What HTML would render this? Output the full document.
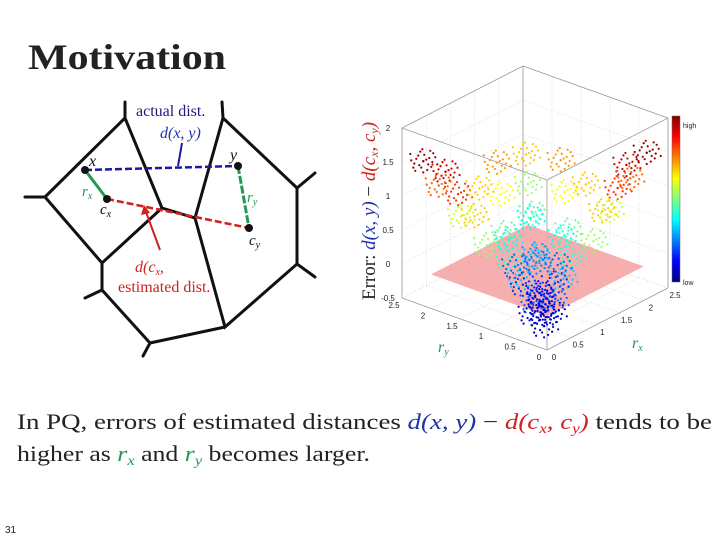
<!DOCTYPE html>
<html><head><meta charset="utf-8"><style>
html,body{margin:0;padding:0;background:#fff;}
svg{display:block;}
text{font-family:"Liberation Serif",serif;}
text.sans{font-family:"Liberation Sans",sans-serif;}
</style></head><body>
<svg id="s" width="720" height="540" viewBox="0 0 720 540" xmlns="http://www.w3.org/2000/svg">
<text x="28" y="69" font-size="36" font-weight="bold" fill="#222" textLength="198" lengthAdjust="spacingAndGlyphs">Motivation</text>

<g stroke="#111" stroke-width="3" fill="none" stroke-linecap="round">
<path d="M125,102 L125,118 L45,197 L25,197 M45,197 L102,263 L162,208 L125,118 M162,208 L195,218 L223,118 L222,102 M223,118 L297,188 L315,173 M297,188 L297,264 L315,277 M297,264 L225,327 L195,218 M225,327 L150,343 L143,356 M150,343 L102,290 L85,298 M102,290 L102,263"/>
</g>
<g>
<line x1="85" y1="170" x2="238" y2="166" stroke="#1a1aa0" stroke-width="2.5" stroke-dasharray="7,3"/>
<line x1="182" y1="143" x2="178" y2="166" stroke="#1a1aa0" stroke-width="2"/>
<line x1="107" y1="199" x2="249" y2="228" stroke="#d02020" stroke-width="2.5" stroke-dasharray="7,3"/>
<line x1="85" y1="170" x2="107" y2="199" stroke="#1f9a50" stroke-width="3"/>
<line x1="238" y1="166" x2="249" y2="228" stroke="#1f9a50" stroke-width="3" stroke-dasharray="8,2"/>
<line x1="160" y1="250" x2="146" y2="212" stroke="#d02020" stroke-width="2"/>
<polygon points="144,205 141,215 150,213" fill="#d02020"/>
<circle cx="85" cy="170" r="4" fill="#111"/>
<circle cx="238" cy="166" r="4" fill="#111"/>
<circle cx="107" cy="199" r="4" fill="#111"/>
<circle cx="249" cy="228" r="4" fill="#111"/>
<text x="136" y="116" font-size="16" fill="#1a1a80">actual dist.</text>
<text x="160" y="138" font-size="16" font-style="italic" fill="#2233aa">d(x, y)</text>
<text x="89" y="166" font-size="16" font-style="italic" fill="#111">x</text>
<text x="230" y="160" font-size="16" font-style="italic" fill="#111">y</text>
<text x="82" y="196" font-size="15" font-style="italic" fill="#1f9a50">r<tspan font-size="10" dy="3">x</tspan></text>
<text x="100" y="214" font-size="15" font-style="italic" fill="#111">c<tspan font-size="10" dy="3">x</tspan></text>
<text x="247" y="202" font-size="15" font-style="italic" fill="#1f9a50">r<tspan font-size="10" dy="3">y</tspan></text>
<text x="249" y="245" font-size="15" font-style="italic" fill="#111">c<tspan font-size="10" dy="3">y</tspan></text>
<text x="135" y="272" font-size="16" font-style="italic" fill="#d02020">d(c<tspan font-size="10" dy="3">x</tspan><tspan dy="-3">,</tspan></text>
<text x="118" y="292" font-size="16" fill="#d02020">estimated dist.</text>
</g>

<g id="plot"></g>

<text x="17" y="429" font-size="22" fill="#222" textLength="695" lengthAdjust="spacingAndGlyphs">In PQ, errors of estimated distances <tspan fill="#2233aa" font-style="italic">d(x, y)</tspan> − <tspan fill="#d02020" font-style="italic">d(c<tspan font-size="14" dy="4">x</tspan><tspan dy="-4">, c</tspan><tspan font-size="14" dy="4">y</tspan><tspan dy="-4">)</tspan></tspan> tends to be</text>
<text x="17" y="461" font-size="22" fill="#222" textLength="353" lengthAdjust="spacingAndGlyphs">higher as <tspan fill="#1f9a50" font-style="italic">r<tspan font-size="14" dy="4">x</tspan></tspan><tspan dy="-4"> and </tspan><tspan fill="#1f9a50" font-style="italic">r<tspan font-size="14" dy="4">y</tspan></tspan><tspan dy="-4"> becomes larger.</tspan></text>
<text class="sans" x="5" y="533" font-size="10" fill="#222">31</text>
</svg>
<script>
const rxVals=[0.2,0.3,0.2,0.4,0.3,0.2,0.5,0.4,0.3,0.2, 2.3,2.0,1.7,2.2,1.5,1.2,1.9,1.0,0.7,0.4, 1.0,1.5,2.0,1.2,1.8,0.8,1.4,0.6,0.8,0.5,1.0,0.7,1.2,1.5,1.0,2.2,1.6,2.0,1.0,0.3,0.6,0.4,1.7,2.2,0.9,1.3,1.1,0.7];
const ryVals=[2.3,2.0,1.7,2.2,1.5,1.2,1.9,1.0,0.7,0.4, 0.2,0.3,0.2,0.4,0.3,0.2,0.5,0.4,0.3,0.2, 1.0,1.5,2.0,1.8,1.2,1.4,0.8,0.6,0.8,0.5,0.7,1.0,1.2,1.0,1.5,1.6,2.2,1.0,2.0,0.3,0.4,0.6,1.7,2.2,1.3,0.9,1.1,0.7];
const errVals=[1.5,1.4,1.2,1.1,0.9,0.6,0.7,0.4,0.2,0.0, 1.5,1.4,1.2,1.1,0.9,0.6,0.7,0.4,0.2,0.0, 0.2,0.5,0.6,0.8,0.8,0.5,0.5,-0.1,-0.2,-0.3,-0.1,-0.1,0.1,0.3,0.3,1.0,1.0,0.9,0.9,-0.35,-0.3,-0.3,0.3,0.9,0.0,0.0,0.05,-0.25];
const zTicks=[-0.5,0,0.5,1,1.5,2];
const zTickLabels=["-0.5","0","0.5","1","1.5","2"];
const xyTicks=[0,0.5,1,1.5,2,2.5];
const xyTickLabels=["0","0.5","1","1.5","2","2.5"];
const NS='http://www.w3.org/2000/svg';
const g=document.getElementById('plot');
function P(rx,ry,z){return [547+48.4*rx-58*ry, 350-24.8*rx-20.8*ry-68*(z+0.5)];}
function mk(t,a,parent){const e=document.createElementNS(NS,t);for(const k in a)e.setAttribute(k,a[k]);(parent||g).appendChild(e);return e;}
function line(a,b,st,w,da){return mk('line',{x1:a[0],y1:a[1],x2:b[0],y2:b[1],stroke:st,'stroke-width':w||1,'stroke-dasharray':da||'none'});}
function jet(t){t=Math.max(0,Math.min(1,t));const r=Math.max(0,Math.min(1,1.5-Math.abs(4*t-3))),gg=Math.max(0,Math.min(1,1.5-Math.abs(4*t-2))),b=Math.max(0,Math.min(1,1.5-Math.abs(4*t-1)));return `rgb(${Math.round(r*255)},${Math.round(gg*255)},${Math.round(b*255)})`;}
zTicks.forEach(z=>{line(P(0,2.5,z),P(2.5,2.5,z),'#ccc',0.6,'1,2');line(P(2.5,2.5,z),P(2.5,0,z),'#ccc',0.6,'1,2');});
xyTicks.forEach(v=>{line(P(v,2.5,-0.5),P(v,2.5,2),'#ccc',0.6,'1,2');line(P(2.5,v,-0.5),P(2.5,v,2),'#ccc',0.6,'1,2');
 line(P(v,0,-0.5),P(v,2.5,-0.5),'#ccc',0.6,'1,2');line(P(0,v,-0.5),P(2.5,v,-0.5),'#ccc',0.6,'1,2');});
const bx=[[[0,2.5,2],[2.5,2.5,2]],[[2.5,2.5,2],[2.5,0,2]],[[2.5,0,2],[0,0,2]],[[0,0,2],[0,2.5,2]],
[[0,2.5,-0.5],[0,2.5,2]],[[2.5,2.5,-0.5],[2.5,2.5,2]],[[2.5,0,-0.5],[2.5,0,2]],[[0,0,-0.5],[0,0,2]],
[[0,0,-0.5],[0,2.5,-0.5]],[[0,0,-0.5],[2.5,0,-0.5]]];
bx.forEach(e=>line(P(...e[0]),P(...e[1]),'#999',0.8));
const pl=[P(0,0,0),P(2,0,0),P(2,2,0),P(0,2,0)];
const plane=mk('polygon',{points:pl.map(p=>p.join(',')).join(' '),fill:'#f4a0a0',opacity:0.85});


const offs=[[0,0],[-7,-3],[6,-4],[-4,5],[5,4],[-9,3],[9,1],[1,-8],[-2,8],[3,-2],[-5,-7],[8,7],[-12,-1],[12,-5],[-3,-12],[4,11],[-10,8],[10,-10],[-13,-9],[14,4],[0,14],[-1,-15],[7,-13],[-8,12]];
const ptsG=mk('g',{});


rxVals.forEach((rx,i)=>{const p=P(rx,ryVals[i],errVals[i]);const c=jet((errVals[i]+0.45)/2.0);
 offs.forEach(o=>{mk('circle',{cx:p[0]+o[0],cy:p[1]+o[1]*0.8,r:1.1,fill:c},ptsG);});
 const pt=mk('circle',{cx:p[0],cy:p[1],r:1.2,fill:c},ptsG);
 
 });
const tf={'font-size':8,fill:'#222','class':'sans'};
zTicks.forEach((z,i)=>{const p=P(0,2.5,z);const t=mk('text',Object.assign({x:p[0]-14,y:p[1]+3,'text-anchor':'middle'},tf));t.textContent=zTickLabels[i];
 });
xyTicks.forEach((v,i)=>{const p=P(0,v,-0.5);const t=mk('text',Object.assign({x:p[0]-8,y:p[1]+10,'text-anchor':'middle'},tf));t.textContent=xyTickLabels[i];
 
 const q=P(v,0,-0.5);const u=mk('text',Object.assign({x:q[0]+7,y:q[1]+10,'text-anchor':'middle'},tf));u.textContent=xyTickLabels[i];
 });
const defs=mk('defs',{});const lg=mk('linearGradient',{id:'jet',x1:0,y1:1,x2:0,y2:0},defs);
[0,0.125,0.375,0.625,0.875,1].forEach(s=>mk('stop',{offset:s,'stop-color':jet(s)},lg));
const cb=mk('rect',{x:672,y:116,width:8,height:166,fill:'url(#jet)',stroke:'#666','stroke-width':0.5});


const hi=mk('text',Object.assign({x:683,y:128},tf));hi.textContent='high';hi.setAttribute('font-size','7');

const lo=mk('text',Object.assign({x:683,y:285},tf));lo.textContent='low';lo.setAttribute('font-size','7');

const zt=mk('text',{x:0,y:0,'font-size':19,fill:'#222',transform:'translate(375,300) rotate(-90)'});
zt.innerHTML='Error: <tspan fill="#2233aa" font-style="italic">d(x, y)</tspan> − <tspan fill="#d02020" font-style="italic">d(c<tspan font-size="12" dy="3">x</tspan><tspan dy="-3">, c</tspan><tspan font-size="12" dy="3">y</tspan><tspan dy="-3">)</tspan></tspan>';


const ryt=mk('text',{x:438,y:352,'font-size':16,'font-style':'italic',fill:'#1f9a50'});ryt.innerHTML='r<tspan font-size="10" dy="3">y</tspan>';

const rxt=mk('text',{x:632,y:348,'font-size':16,'font-style':'italic',fill:'#1f9a50'});rxt.innerHTML='r<tspan font-size="10" dy="3">x</tspan>';

</script>
</body></html>
